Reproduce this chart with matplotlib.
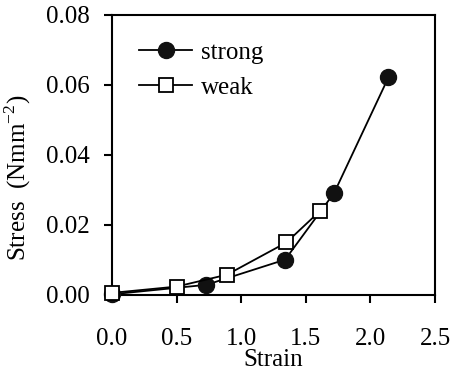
import matplotlib
matplotlib.use('Agg')
import matplotlib.pyplot as plt

# values
strong_strain = [0.0, 0.73, 1.34, 1.72, 2.14]
strong_stress = [0.0002, 0.0029, 0.0101, 0.0292, 0.0622]
weak_strain = [0.0, 0.50, 0.89, 1.35, 1.61]
weak_stress = [0.0006, 0.0024, 0.0058, 0.0150, 0.0240]

x_ticks = [0.0, 0.5, 1.0, 1.5, 2.0, 2.5]
y_ticks = [0.00, 0.02, 0.04, 0.06, 0.08]

plt.rcParams['font.family'] = ['Liberation Serif', 'DejaVu Serif']
plt.rcParams['mathtext.fontset'] = 'custom'
plt.rcParams['mathtext.rm'] = 'Liberation Serif'

fig = plt.figure(figsize=(4.52, 3.71), dpi=100)
ax = fig.add_axes([0.2478, 0.2049, 0.9624 - 0.2478, 0.9596 - 0.2049])

ax.plot(strong_strain, strong_stress, color='black', lw=1.3, marker='o',
        markersize=11.5, markerfacecolor='#111111', markeredgecolor='#111111',
        label='strong', clip_on=False, zorder=3)
ax.plot(weak_strain, weak_stress, color='black', lw=1.3, marker='s',
        markersize=10.5, markerfacecolor='white', markeredgecolor='black',
        markeredgewidth=1.3, label='weak', clip_on=False, zorder=4)

ax.set_xlim(0, 2.5)
ax.set_ylim(0, 0.08)
ax.set_xticks(x_ticks)
ax.set_yticks(y_ticks)
ax.set_xticklabels(['%.1f' % v for v in x_ticks])
ax.set_yticklabels(['%.2f' % v for v in y_ticks])

for s in ax.spines.values():
    s.set_linewidth(1.5)
ax.tick_params(axis='x', direction='out', length=6, width=1.5, pad=18,
               labelsize=18)
ax.tick_params(axis='y', direction='out', length=6, width=1.5, pad=10,
               labelsize=18)

ax.set_xlabel('Strain', fontsize=18)
ax.xaxis.set_label_coords(0.5, -0.192)
ax.set_ylabel(r'Stress  (Nmm$^{\mathregular{-2}}$)', fontsize=18)
ax.yaxis.set_label_coords(-0.245, 0.42)

ax.legend(loc='upper left', bbox_to_anchor=(0.085, 0.905), frameon=False,
          fontsize=18, numpoints=1, handlelength=2.1, handletextpad=0.35,
          labelspacing=0.5, borderpad=0, borderaxespad=0)

fig.savefig('out.png', dpi=100)
